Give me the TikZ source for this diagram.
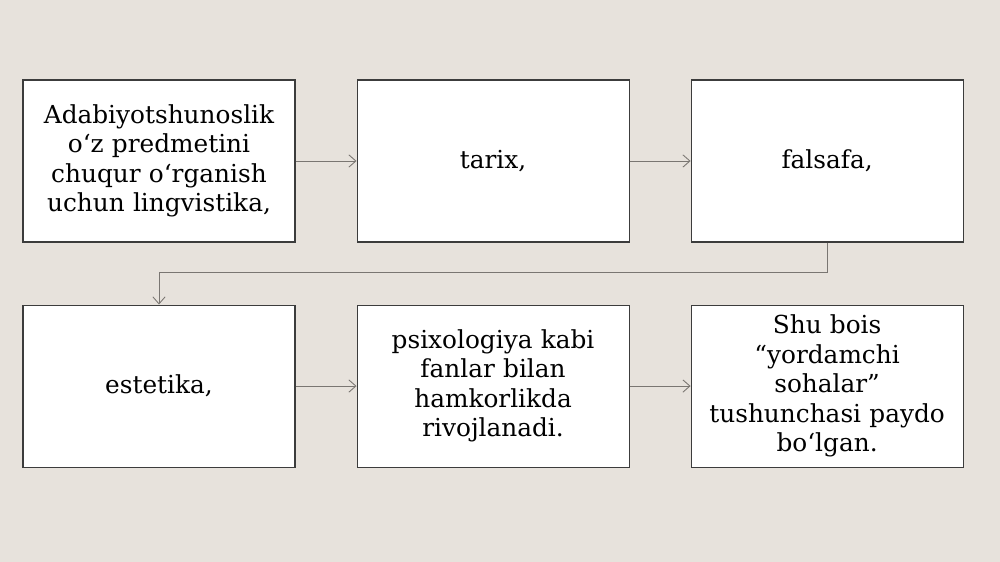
\documentclass[tikz,border=0pt]{standalone}
\usepackage{fontspec}
\setmainfont{DejaVu Serif}
\usetikzlibrary{positioning,arrows.meta}

\definecolor{paper}{HTML}{E7E2DC}
\definecolor{frame}{HTML}{3C3C3C}
\definecolor{wire}{HTML}{7A7672}

\tikzset{
    block/.style={draw=frame, line width=0.6pt, fill=white, minimum width=5.44cm,
        minimum height=3.24cm, align=center, text width=5.2cm,
        font=\fontsize{14.1}{16.8}\selectfont},
    link/.style={draw=wire, line width=0.5pt, -{Straight Barb[length=4pt,width=7pt]}}
}

\begin{document}
\begin{tikzpicture}[node distance=1.22cm]

    \fill[paper] (0,0) rectangle (20,11.24);
    \useasboundingbox (0,0) rectangle (20,11.24);

    \node[block] (lingvistika) at (3.18,8.02) {Adabiyotshunoslik\\o‘z predmetini\\chuqur o‘rganish\\uchun lingvistika,};
    \node[block] (tarix) [right = of lingvistika] {tarix,};
    \node[block] (falsafa) [right = of tarix] {falsafa,};

    \node[block] (estetika) [below = 1.24cm of lingvistika] {estetika,};
    \node[block] (psixologiya) [right = of estetika] {psixologiya kabi\\fanlar bilan\\hamkorlikda\\rivojlanadi.};
    \node[block] (sohalar) [right = of psixologiya] {Shu bois\\“yordamchi\\sohalar”\\tushunchasi paydo\\bo‘lgan.};

    \draw[link] (lingvistika) -- (tarix);
    \draw[link] (tarix) -- (falsafa);
    \draw[link] (falsafa.south) -- ++(0,-0.6) -| (estetika.north);
    \draw[link] (estetika) -- (psixologiya);
    \draw[link] (psixologiya) -- (sohalar);

\end{tikzpicture}
\end{document}
